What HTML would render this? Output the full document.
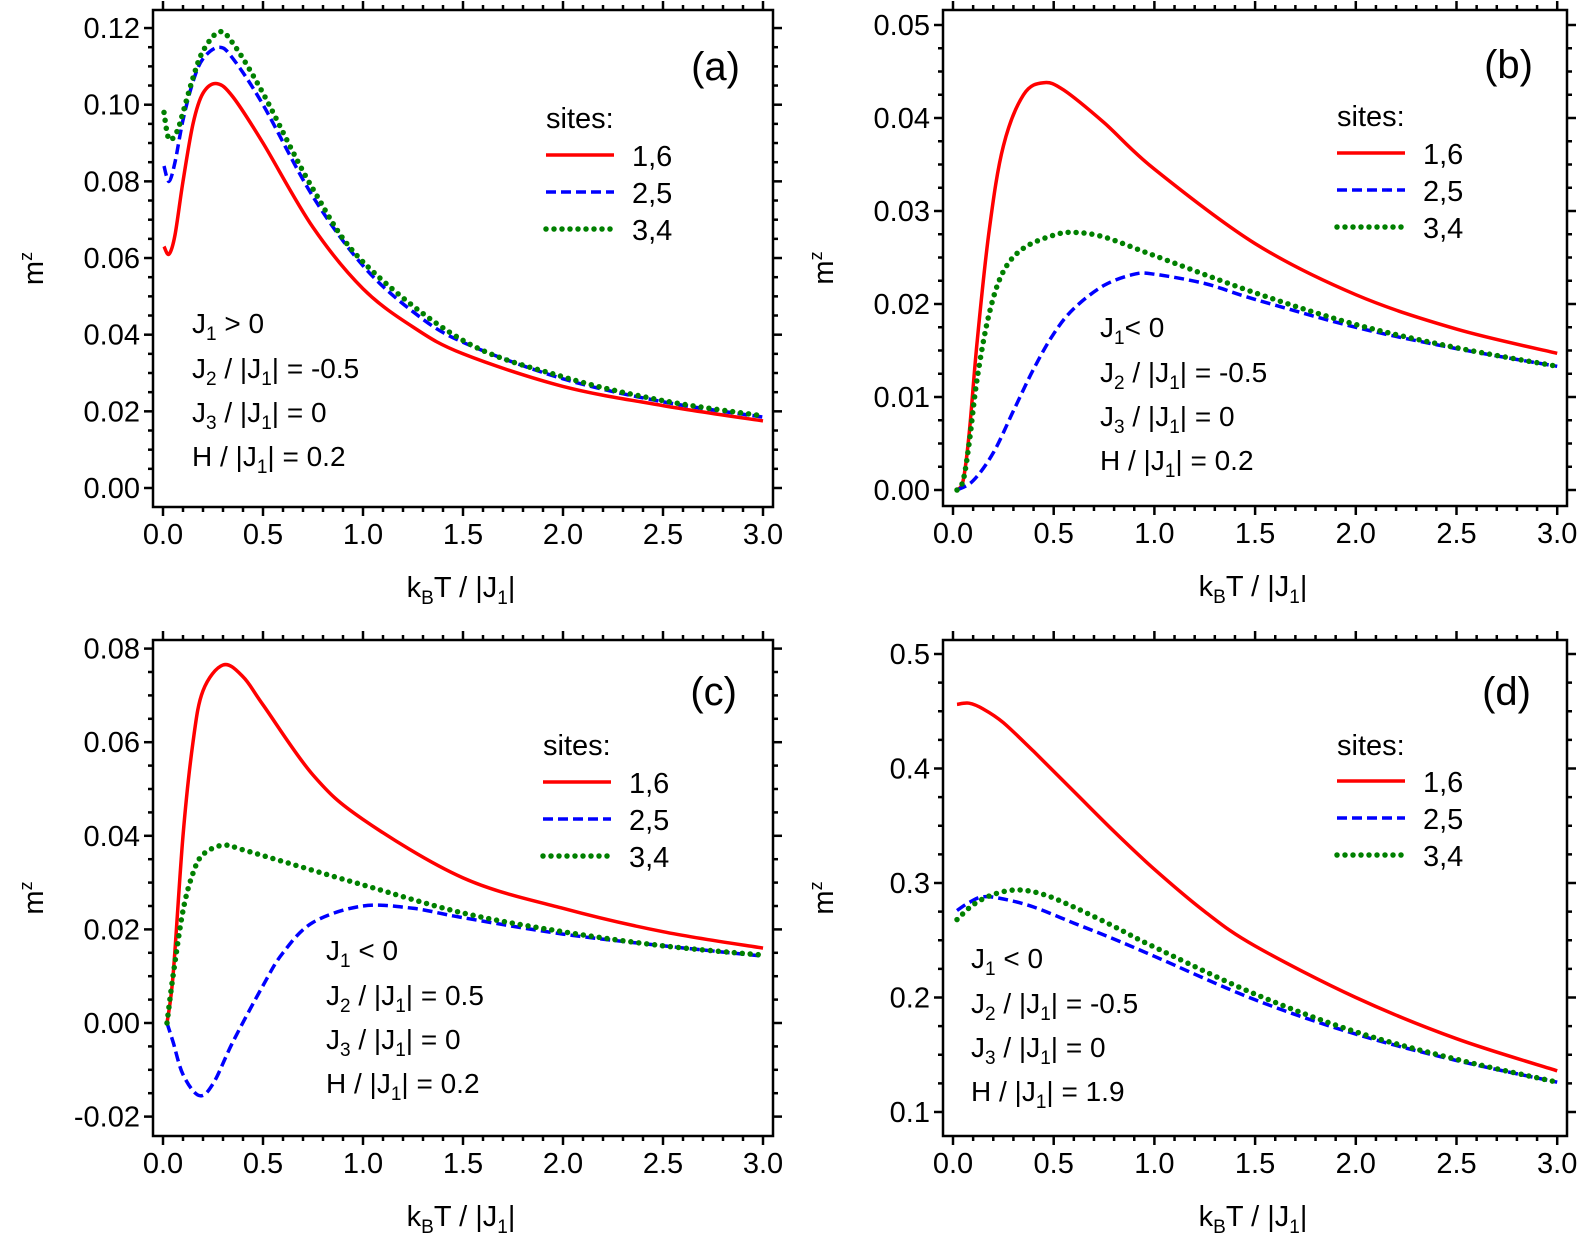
<!DOCTYPE html>
<html><head><meta charset="utf-8"><style>
body{margin:0;background:#fff}
svg{display:block;font-family:"Liberation Sans",Arial,sans-serif}
</style></head><body>
<svg id="s" width="1578" height="1238" xmlns="http://www.w3.org/2000/svg"></svg>
<script>
const S=document.getElementById('s');let out='';
const sub=(t)=>`<tspan font-size="19" dy="7">${t}</tspan><tspan dy="-7">`;
const P=[
 {L:153,R:773,T:10,B:507,x0:163,xs:200,y:v=>488-v*3833,yt:[0,0.02,0.04,0.06,0.08,0.10,0.12],ym:0.005,yr:[0,0.12],fmt:v=>v.toFixed(2),lab:'(a)',lx:740,ly:80,
  leg:[546,128,155],ann:[192,333],a1:'J'+sub('1')+' &gt; 0</tspan>',a2:'-0.5',a4:'0.2',
  d:[[[0.005,0.063],[0.03,0.061],[0.06,0.066],[0.1,0.08],[0.15,0.095],[0.2,0.103],[0.27,0.1055],[0.35,0.102],[0.5,0.09],[0.75,0.068],[1.0,0.052],[1.25,0.042],[1.5,0.035],[2.0,0.0265],[2.5,0.0215],[3.0,0.0175]],
     [[0.005,0.084],[0.03,0.080],[0.06,0.085],[0.1,0.096],[0.15,0.106],[0.2,0.112],[0.28,0.115],[0.35,0.112],[0.5,0.100],[0.75,0.076],[1.0,0.058],[1.25,0.046],[1.5,0.038],[2.0,0.0285],[2.5,0.0225],[3.0,0.0185]],
     [[0.005,0.098],[0.03,0.091],[0.07,0.093],[0.1,0.098],[0.15,0.107],[0.2,0.114],[0.28,0.119],[0.35,0.116],[0.5,0.103],[0.75,0.078],[1.0,0.059],[1.5,0.0385],[2.0,0.029],[2.5,0.0228],[3.0,0.0188]]]},
 {L:943,R:1567,T:10,B:506,x0:953,xs:201.4,y:v=>490-v*9300,yt:[0,0.01,0.02,0.03,0.04,0.05],ym:0.0025,yr:[0,0.05],fmt:v=>v.toFixed(2),lab:'(b)',lx:1533,ly:78,
  leg:[1337,126,153],ann:[1100,337],a1:'J'+sub('1')+'&lt; 0</tspan>',a2:'-0.5',a4:'0.2',
  d:[[[0.02,0],[0.05,0.001],[0.08,0.006],[0.12,0.016],[0.18,0.028],[0.25,0.037],[0.35,0.0425],[0.45,0.0438],[0.55,0.043],[0.75,0.0395],[1.0,0.0345],[1.5,0.0265],[2.0,0.021],[2.5,0.0173],[3.0,0.0147]],
     [[0.02,0],[0.1,0.001],[0.2,0.004],[0.3,0.0085],[0.4,0.013],[0.5,0.0168],[0.6,0.0195],[0.75,0.022],[0.9,0.0232],[1.0,0.0232],[1.25,0.0222],[1.5,0.0205],[2.0,0.0175],[2.5,0.0152],[3.0,0.0133]],
     [[0.02,0],[0.05,0.001],[0.08,0.005],[0.12,0.012],[0.18,0.019],[0.25,0.0235],[0.35,0.026],[0.5,0.0274],[0.6,0.0277],[0.75,0.0272],[1.0,0.0252],[1.5,0.0212],[2.0,0.0178],[2.5,0.0153],[3.0,0.0133]]]},
 {L:153,R:773,T:640,B:1136,x0:163,xs:200,y:v=>1023-v*4680,yt:[-0.02,0,0.02,0.04,0.06,0.08],ym:0.005,yr:[-0.02,0.08],fmt:v=>v.toFixed(2),lab:'(c)',lx:737,ly:705,
  leg:[543,755,782],ann:[326,960],a1:'J'+sub('1')+' &lt; 0</tspan>',a2:'0.5',a4:'0.2',
  d:[[[0.02,0],[0.05,0.01],[0.1,0.04],[0.15,0.06],[0.2,0.071],[0.3,0.0765],[0.4,0.074],[0.5,0.068],[0.75,0.053],[1.0,0.0435],[1.5,0.031],[2.0,0.0245],[2.5,0.0195],[3.0,0.016]],
     [[0.02,0],[0.05,-0.004],[0.1,-0.011],[0.18,-0.0155],[0.25,-0.013],[0.35,-0.004],[0.5,0.008],[0.6,0.015],[0.75,0.0215],[1.0,0.025],[1.25,0.0245],[1.5,0.0225],[2.0,0.019],[2.5,0.0165],[3.0,0.0143]],
     [[0.02,0],[0.05,0.01],[0.1,0.024],[0.15,0.032],[0.2,0.036],[0.3,0.038],[0.4,0.037],[0.6,0.0345],[1.0,0.0295],[1.5,0.0235],[2.0,0.0195],[2.5,0.0165],[3.0,0.0145]]]},
 {L:943,R:1567,T:640,B:1136,x0:953,xs:201.4,y:v=>1112-(v-0.1)*1145,yt:[0.1,0.2,0.3,0.4,0.5],ym:0.025,yr:[0.1,0.5],fmt:v=>v.toFixed(1),lab:'(d)',lx:1531,ly:705,
  leg:[1337,755,781],ann:[971,968],a1:'J'+sub('1')+' &lt; 0</tspan>',a2:'-0.5',a4:'1.9',
  d:[[[0.02,0.456],[0.08,0.457],[0.15,0.452],[0.25,0.44],[0.4,0.415],[0.6,0.38],[0.8,0.345],[1.0,0.312],[1.25,0.275],[1.5,0.245],[2.0,0.2],[2.5,0.164],[3.0,0.136]],
     [[0.02,0.276],[0.08,0.283],[0.15,0.288],[0.25,0.286],[0.4,0.279],[0.6,0.265],[0.8,0.251],[1.0,0.236],[1.5,0.198],[2.0,0.168],[2.5,0.145],[3.0,0.126]],
     [[0.02,0.268],[0.1,0.281],[0.2,0.29],[0.32,0.294],[0.45,0.29],[0.6,0.279],[0.8,0.262],[1.0,0.244],[1.5,0.203],[2.0,0.17],[2.5,0.146],[3.0,0.126]]]}
];
const sty=['stroke="#ff0000" stroke-width="3.5"','stroke="#0000ff" stroke-width="3.5" stroke-dasharray="10 5"','stroke="#008000" stroke-dasharray="0 8" stroke-linecap="round" stroke-width="5.5"'];
function cr(pts){let d='M'+pts[0][0].toFixed(1)+','+pts[0][1].toFixed(1);
 for(let i=0;i<pts.length-1;i++){const p0=pts[Math.max(0,i-1)],p1=pts[i],p2=pts[i+1],p3=pts[Math.min(pts.length-1,i+2)];
  d+=' C'+(p1[0]+(p2[0]-p0[0])/6).toFixed(1)+','+(p1[1]+(p2[1]-p0[1])/6).toFixed(1)+' '+(p2[0]-(p3[0]-p1[0])/6).toFixed(1)+','+(p2[1]-(p3[1]-p1[1])/6).toFixed(1)+' '+p2[0].toFixed(1)+','+p2[1].toFixed(1);}
 return d;}
for(const p of P){
 let g='';
 g+=`<rect x="${p.L}" y="${p.T}" width="${p.R-p.L}" height="${p.B-p.T}" fill="none" stroke="#000" stroke-width="2.5"/>`;
 for(let i=0;i<=30;i++){const x=p.x0+i*0.1*p.xs,mj=i%5==0,l=mj?9:5;
  g+=`<line x1="${x}" y1="${p.B}" x2="${x}" y2="${p.B+l}" stroke="#000" stroke-width="2.5"/><line x1="${x}" y1="${p.T}" x2="${x}" y2="${p.T-l}" stroke="#000" stroke-width="2.5"/>`;
  if(mj)g+=`<text x="${x}" y="${p.B+37}" font-size="29" text-anchor="middle">${(i/10).toFixed(1)}</text>`;}
 const n=Math.round((p.yr[1]-p.yr[0])/p.ym);
 for(let i=0;i<=n;i++){const v=p.yr[0]+i*p.ym,y=p.y(v),mj=i%4==0,l=mj?9:5;
  g+=`<line x1="${p.L}" y1="${y}" x2="${p.L-l}" y2="${y}" stroke="#000" stroke-width="2.5"/><line x1="${p.R}" y1="${y}" x2="${p.R+l}" y2="${y}" stroke="#000" stroke-width="2.5"/>`;
  if(mj)g+=`<text x="${p.L-13}" y="${y+10}" font-size="29" text-anchor="end">${p.fmt(v)}</text>`;}
 const xc=(p.L+p.R)/2-2, yb=p.B+90;
 g+=`<text x="${xc}" y="${yb}" font-size="29" text-anchor="middle">k<tspan font-size="19" dy="7">B</tspan><tspan dy="-7">T / |J</tspan><tspan font-size="19" dy="7">1</tspan><tspan dy="-7">|</tspan></text>`;
 const ym=(p.T+p.B)/2+10, xm=p.L-110;
 g+=`<text transform="translate(${xm},${ym}) rotate(-90)" font-size="29" text-anchor="middle">m<tspan font-size="18" dy="-11">z</tspan></text>`;
 g+=`<text x="${p.lx}" y="${p.ly}" font-size="40" text-anchor="end">${p.lab}</text>`;
 const [lx,sy,l1]=p.leg;
 g+=`<text x="${lx}" y="${sy}" font-size="29">sites:</text>`;
 ['1,6','2,5','3,4'].forEach((t,i)=>{const y=l1+i*37;g+=`<line x1="${lx}" y1="${y}" x2="${lx+68}" y2="${y}" fill="none" ${sty[i]}/><text x="${lx+86}" y="${y+11}" font-size="29">${t}</text>`;});
 const [ax,ay]=p.ann;
 g+=`<text x="${ax}" y="${ay}" font-size="28">${p.a1}</text>`;
 g+=`<text x="${ax}" y="${ay+45}" font-size="28">J${sub('2')} / |J</tspan>${sub('1')}| = ${p.a2}</tspan></text>`;
 g+=`<text x="${ax}" y="${ay+89}" font-size="28">J${sub('3')} / |J</tspan>${sub('1')}| = 0</tspan></text>`;
 g+=`<text x="${ax}" y="${ay+133}" font-size="28">H / |J${sub('1')}| = ${p.a4}</tspan></text>`;
 [0,1,2].forEach(k=>{const pts=p.d[k].map(q=>[p.x0+q[0]*p.xs,p.y(q[1])]);
  g+=`<path d="${cr(pts)}" fill="none" ${sty[k]}/>`;});
 out+=g;}
S.innerHTML=out;
</script>
</body></html>
